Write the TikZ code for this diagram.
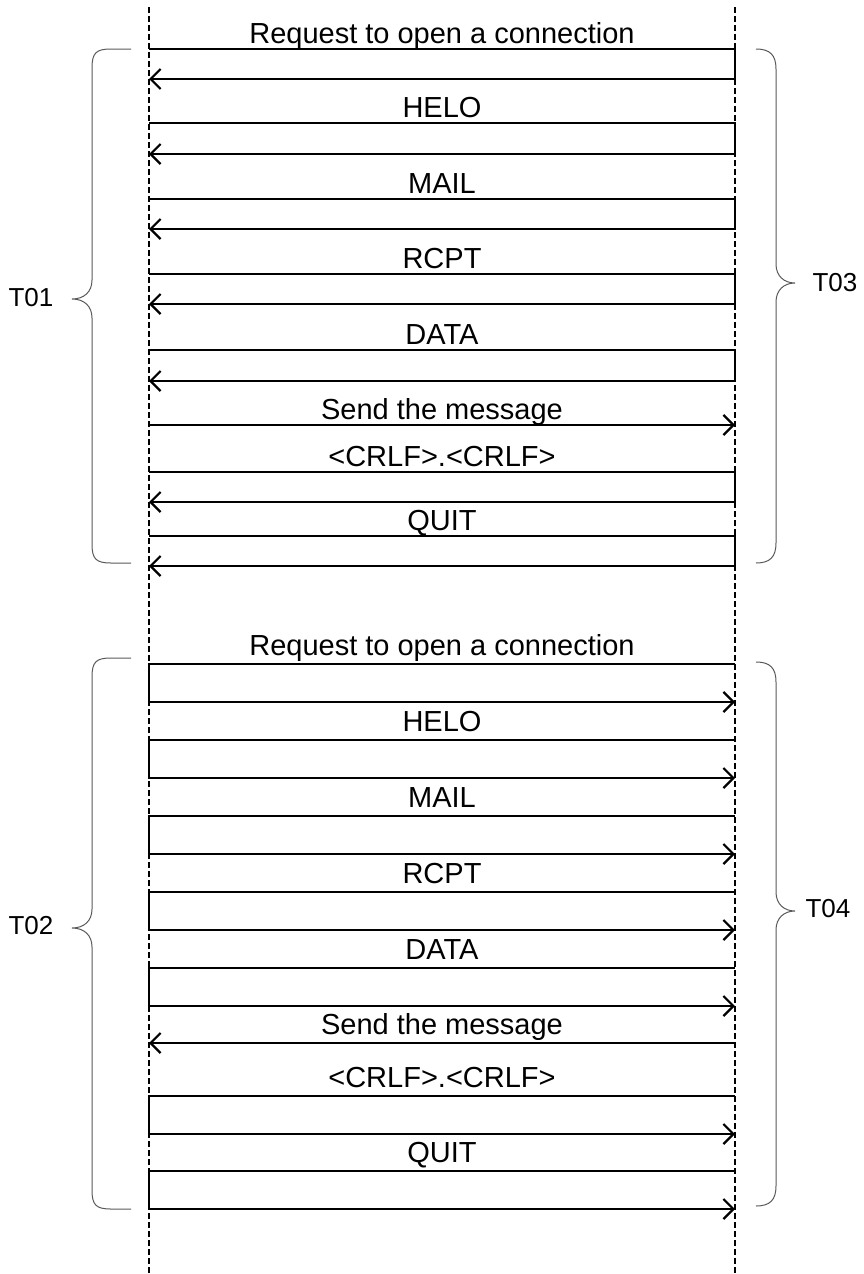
\documentclass[tikz,border=0pt]{standalone}
\usepackage{fontspec}
\setmainfont{Liberation Sans}
\usetikzlibrary{
    arrows.meta,
    positioning
}

\begin{document}
\begin{tikzpicture} [x=1pt,y=-1pt,
    lifeline/.style={line width=2.2pt,dash pattern=on 6pt off 3pt},
    msg/.style={line width=2.2pt,-{Straight Barb[length=10pt,width=20pt]}},
    bracepath/.style={line width=1pt,draw=black!65},
    lbl/.style={font=\fontsize{29}{31}\selectfont,anchor=base,inner sep=0pt},
    tname/.style={font=\fontsize{26}{28}\selectfont,inner sep=0pt}]
    \useasboundingbox (0,0) rectangle (863,1274);

    \coordinate (A top) at (149,7);
    \coordinate (A bot) at (149,1274);
    \coordinate (B top) at (735,7);
    \coordinate (B bot) at (735,1274);
    \draw[lifeline] (A top) -- (A bot);
    \draw[lifeline] (B top) -- (B bot);

    \foreach \i/\yt/\yb/\txt in {1/49/79/Request to open a connection,
                                 2/123/154/HELO,
                                 3/199/229/MAIL,
                                 4/274/304/RCPT,
                                 5/350/381/DATA,
                                 7/472/502/<CRLF>.<CRLF>,
                                 8/536/566/QUIT} {
        \coordinate (upa\i) at (149,\yt);
        \coordinate (upb\i) at (735,\yt);
        \coordinate (upbb\i) at (735,\yb);
        \coordinate (upab\i) at (149,\yb);
        \draw[msg] (upa\i) -- (upb\i) -- (upbb\i) -- (upab\i);
        \node[lbl] (upmsg\i) at (442,\yt-6) {\txt};
    }
    \coordinate (upa6) at (149,425);
    \coordinate (upb6) at (735,425);
    \draw[msg] (upa6) -- (upb6);
    \node[lbl] (upmsg6) at (442,419) {Send the message};

    \foreach \i/\yt/\yb/\txt in {1/664/702/Request to open a connection,
                                 2/740/778/HELO,
                                 3/816/854/MAIL,
                                 4/892/930/RCPT,
                                 5/968/1006/DATA,
                                 7/1096/1134/<CRLF>.<CRLF>,
                                 8/1171/1209/QUIT} {
        \coordinate (loa\i) at (149,\yt);
        \coordinate (lob\i) at (735,\yt);
        \coordinate (lobb\i) at (735,\yb);
        \coordinate (loab\i) at (149,\yb);
        \draw[msg] (lob\i) -- (loa\i) -- (loab\i) -- (lobb\i);
        \node[lbl] (lomsg\i) at (442,\yt-9) {\txt};
    }
    \coordinate (loa6) at (149,1043);
    \coordinate (lob6) at (735,1043);
    \draw[msg] (lob6) -- (loa6);
    \node[lbl] (lomsg6) at (442,1034) {Send the message};

    \draw[bracepath] (131,49) -- (111,49) .. controls (96,49) and (92,53) .. (92,68)
        -- (92,280) .. controls (92,292) and (84,299) .. (72,299)
        .. controls (84,299) and (92,306) .. (92,318)
        -- (92,544) .. controls (92,559) and (96,563) .. (111,563) -- (131,563);
    \draw[bracepath] (756,49) .. controls (770,49) and (776,55) .. (776,69)
        -- (776,264) .. controls (776,276) and (784,283) .. (795,283)
        .. controls (784,283) and (776,290) .. (776,302)
        -- (776,543) .. controls (776,557) and (770,563) .. (756,563);
    \draw[bracepath] (131,658) -- (111,658) .. controls (96,658) and (92,662) .. (92,677)
        -- (92,909) .. controls (92,921) and (84,928) .. (72,928)
        .. controls (84,928) and (92,935) .. (92,947)
        -- (92,1190) .. controls (92,1205) and (96,1209) .. (111,1209) -- (131,1209);
    \draw[bracepath] (756,662) .. controls (770,662) and (776,668) .. (776,682)
        -- (776,892) .. controls (776,904) and (784,911) .. (795,911)
        .. controls (784,911) and (776,918) .. (776,930)
        -- (776,1186) .. controls (776,1200) and (770,1206) .. (756,1206);

    \node[tname] (t01) at (31,298) {T01};
    \node[tname] (t03) at (835,283) {T03};
    \node[tname] (t02) at (31,926) {T02};
    \node[tname] (t04) at (828,909) {T04};
\end{tikzpicture}
\end{document}
